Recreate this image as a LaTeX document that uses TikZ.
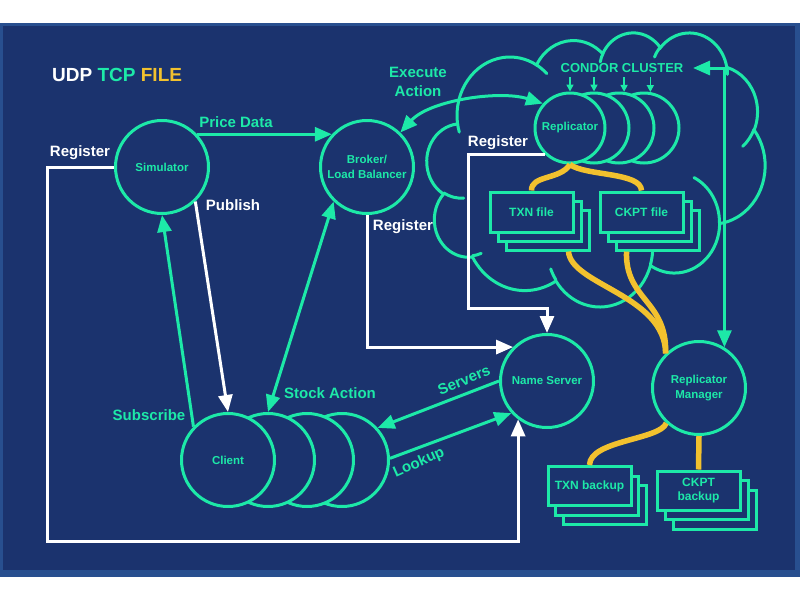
\documentclass[tikz,border=0pt]{standalone}
\usepackage{fontspec}
\setmainfont{Liberation Sans}
\usetikzlibrary{arrows.meta}
\definecolor{navy}{HTML}{1B336E}
\definecolor{framec}{HTML}{284F8F}
\definecolor{mint}{HTML}{1DE9A8}
\definecolor{amber}{HTML}{F2C12E}
\tikzset{
  ooarc/.style n args={4}{/utils/exec={%
      \pgfmathsetmacro\ooS{atan2((#1)*sin(#3),(#2)*cos(#3))}%
      \pgfmathsetmacro\ooR{atan2((#1)*sin((#3)+(#4)),(#2)*cos((#3)+(#4)))}%
      \pgfmathsetmacro\ooE{\ooR+360*round((\ooS+(#4)-\ooR)/360)}},
    x radius=#1, y radius=#2, start angle=\ooS, end angle=\ooE},
  circ/.style={circle, draw=mint, line width=3pt, fill=navy, inner sep=0pt,
    minimum size=93pt, text=mint, align=center,
    font=\fontsize{11.5}{14.5}\selectfont\bfseries},
  repc/.style={circ, minimum size=70pt},
  bx/.style={rectangle, draw=mint, line width=3pt, fill=navy, inner sep=0pt,
    minimum width=83pt, minimum height=40pt, text=mint, align=center,
    font=\fontsize{12}{14}\selectfont\bfseries},
  lbl/.style={inner sep=0pt, font=\fontsize{15}{19}\selectfont\bfseries},
  gline/.style={draw=mint, line width=3pt},
  wline/.style={draw=white, line width=3pt},
  yline/.style={draw=amber, line width=5.5pt},
  cloudline/.style={draw=mint, line width=3pt, line cap=round},
  smallarr/.style={draw=mint, line width=1.5pt, -{Triangle[length=7pt,width=7pt]}},
  >={Triangle[length=17pt,width=14pt]}
}
\begin{document}
\begin{tikzpicture}[x=1pt,y=-1pt]
\useasboundingbox (0,0) rectangle (800,600);
\fill[white] (0,0) rectangle (800,600);
\fill[framec] (0,23) rectangle (800,577);
\fill[navy] (3,26) rectangle (795,570);

% cloud (preset cloud geometry)
\begin{scope}[shift={(427,32)}, x=7.8241pt, y=-6.3426pt]
\draw[cloudline] (3.9,14.37)
  arc[ooarc={6.753}{9.19}{-190.487483}{123.780533}]
  arc[ooarc={5.333}{7.267}{-144.102383}{89.945233}]
  arc[ooarc={4.365}{5.945}{-145.807917}{99.723017}]
  arc[ooarc={4.857}{6.595}{-130.986067}{117.241733}]
  arc[ooarc={5.333}{7.273}{-78.708883}{109.026917}]
  arc[ooarc={6.775}{9.22}{-46.26725}{130.269}]
  arc[ooarc={5.785}{7.867}{0.625017}{114.033333}]
  arc[ooarc={6.752}{9.215}{22.4516}{115.17255}]
  arc[ooarc={7.72}{10.543}{66.242633}{75.711017}]
  arc[ooarc={4.36}{5.918}{-274.942083}{146.735567}]
  arc[ooarc={4.345}{5.945}{-246.8285}{152.51885}];
\draw[cloudline]
  (4.693,26.177) arc[ooarc={4.345}{5.945}{86.742}{26.4295}]
  (6.928,34.899) arc[ooarc={4.36}{5.918}{73.610467}{11.447467}]
  (16.478,39.09) arc[ooarc={6.752}{9.215}{137.62415}{14.0811}]
  (28.827,34.751) arc[ooarc={6.752}{9.215}{6.453267}{15.99835}]
  (34.129,22.954) arc[ooarc={5.785}{7.867}{-70.29235}{70.917367}]
  (41.798,15.354) arc[ooarc={5.333}{7.273}{30.318033}{27.7515}]
  (38.324,5.426) arc[ooarc={4.857}{6.595}{-13.744333}{14.8589}]
  (29.078,3.952) arc[ooarc={4.857}{6.595}{-149.18145}{18.195367}]
  (22.141,4.72) arc[ooarc={4.365}{5.945}{-163.494267}{17.68635}]
  (14.0,5.192) arc[ooarc={6.753}{9.19}{-66.70695}{12.31935}]
  (4.127,15.789) arc[ooarc={6.753}{9.19}{157.65435}{11.858167}];
\end{scope}

% title
\node[anchor=west, inner sep=0pt, font=\fontsize{19}{22}\selectfont\bfseries] (title) at (52,75)
  {\textcolor{white}{UDP} \textcolor{mint}{TCP} \textcolor{amber}{FILE}};
\node[text=mint, inner sep=0pt, font=\fontsize{13}{15}\selectfont\bfseries] (condor) at (622,68) {CONDOR CLUSTER};

% nodes
\node[circ] (sim) at (162,167) {Simulator};
\node[circ] (brok) at (367,167) {Broker/\\Load Balancer};
\node[repc] (rep4) at (644,128) {};
\node[repc] (rep3) at (619,128) {};
\node[repc] (rep2) at (594,128) {};
\node[repc] (rep1) at (570,128) {Replicator};
\node[circ] (ns) at (547,381) {Name Server};
\node[circ] (mgr) at (699,388) {Replicator\\Manager};
\node[circ] (cl4) at (342,460) {};
\node[circ] (cl3) at (307,460) {};
\node[circ] (cl2) at (268,460) {};
\node[circ] (cl1) at (228,460) {Client};

\node[bx] (txn3) at (547.5,230) {};
\node[bx] (txn2) at (539.5,221) {};
\node[bx] (txn1) at (531.5,212) {TXN file};
\node[bx] (ck3) at (657.5,230) {};
\node[bx] (ck2) at (649.5,221) {};
\node[bx] (ck1) at (641.5,212) {CKPT file};
\node[bx, minimum height=39pt] (tb3) at (605,505) {};
\node[bx, minimum height=39pt] (tb2) at (597,495.5) {};
\node[bx, minimum height=39pt] (tb1) at (589.5,486) {TXN backup};
\node[bx, minimum height=39pt] (cb3) at (714.5,509.5) {};
\node[bx, minimum height=39pt] (cb2) at (706.5,500) {};
\node[bx, minimum height=39pt] (cb1) at (698.5,490.5) {CKPT\\backup};

% file links
\begin{scope}[on background layer/.try]
\end{scope}
\draw[yline] (rep1.south) .. controls (560,180) and (531,175) .. (txn1.north);
\draw[yline] (rep1.south) .. controls (585,176) and (641,172) .. (ck1.north);
\draw[yline] ([xshift=21pt]txn3.south) .. controls (571,285) and (665,295) .. (mgr.134);
\draw[yline] ([xshift=-31pt]ck3.south) .. controls (625,300) and (667,300) .. (mgr.134);
\draw[yline] (mgr.227) .. controls (660,440) and (590,440) .. (tb1.north);
\draw[yline] (mgr.south) -- (cb1.north);

% connectors
\coordinate (regc) at (47,541);
\coordinate (rr) at (468,308);
\coordinate (cc) at (693,68);
\coordinate (ct) at (0,77);
\draw[gline,->] (sim.43) -- (sim.43 -| brok.137);
\draw[wline,->] (sim.west) -| (regc) -| (ns.233);
\draw[wline,->] (sim.-46) -- (cl1.north);
\draw[gline,->] (cl1.136) -- (sim.south);
\draw[gline,<->] (cl2.north) -- (brok.226);
\draw[wline,->] (brok.south) |- (ns.135);
\draw[wline,->] (rep1.227) -| (rr) -| (ns.north);
\draw[gline,->] (ns.west) -- (cl4.42);
\draw[gline,->] (cl4.2) -- (ns.222);
\draw[gline,<->] (brok.46) .. controls (430,100) and (500,90) .. (rep1.138);
\draw[gline,<->] (cc) -| (mgr.58);
\draw[smallarr] (rep1.north |- ct) -- (rep1.north);
\draw[smallarr] (rep2.north |- ct) -- (rep2.north);
\draw[smallarr] (rep3.82 |- ct) -- (rep3.82);
\draw[smallarr] (rep4.80 |- ct) -- (rep4.80);

% labels
\node[lbl,text=mint] (lpd) at (236,122) {Price Data};
\node[lbl,text=white] (lreg1) at (80,153) {Register};
\node[lbl,text=white] (lpub) at (233,205) {Publish};
\node[lbl,text=mint,align=center] (lexe) at (418,82) {Execute\\Action};
\node[lbl,text=white] (lreg2) at (403,227) {Register};
\node[lbl,text=white] (lreg3) at (498,143) {Register};
\node[lbl,text=mint] (lstock) at (330,393) {Stock Action};
\node[lbl,text=mint] (lsub) at (149,415) {Subscribe};
\node[lbl,text=mint,rotate=22] (lserv) at (464,380) {Servers};
\node[lbl,text=mint,rotate=24] (llook) at (419,463) {Lookup};
\end{tikzpicture}
\end{document}
